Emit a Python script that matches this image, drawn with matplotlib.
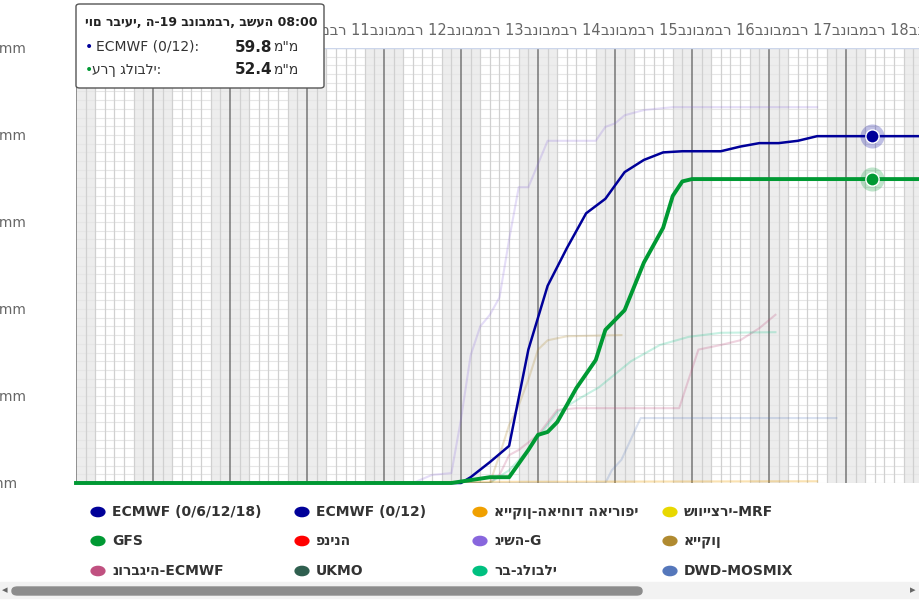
import matplotlib.pyplot as plt
from matplotlib.patches import FancyBboxPatch, Rectangle

# hours counted from 8 November 00:00
ecmwf_h = [0, 117, 120, 123, 129, 135, 141, 147, 153, 159, 165, 171, 177, 183, 189, 201, 207, 213, 219, 225, 231, 264]
ecmwf_v = [0, 0, 0, 1, 3.6, 6.4, 23, 34, 40.5, 46.5, 49, 53.6, 55.7, 57, 57.2, 57.2, 58, 58.6, 58.6, 59, 59.8, 59.8]

gfs_h = [0, 117, 123, 129, 135, 141, 144, 147, 150, 156, 162, 165, 171, 177, 183, 186, 189, 192, 264]
gfs_v = [0, 0, 0.5, 1, 1, 5.7, 8.3, 8.8, 10.5, 16.4, 21.2, 26.4, 29.8, 38, 44, 49.5, 52, 52.4, 52.4]

gisha_h = [0, 105, 111, 117, 120, 123, 126, 129, 132, 135, 138, 141, 147, 162, 165, 168, 171, 177, 186, 231]
gisha_v = [0, 0, 1.4, 1.7, 11, 22, 27, 29, 32, 42, 51, 51, 59, 59, 61.4, 62, 63.4, 64.3, 64.8, 64.8]

icon_h = [0, 129, 132, 135, 138, 141, 144, 147, 153, 170]
icon_v = [0, 0, 4.8, 10, 13.4, 17.8, 23, 24.6, 25.3, 25.5]

norway_h = [0, 129, 132, 135, 138, 144, 150, 156, 188, 194, 201, 207, 213, 218]
norway_v = [0, 0, 1.4, 4.8, 5.7, 8.3, 12.6, 12.9, 12.9, 23, 23.8, 24.6, 26.7, 29]

multi_h = [0, 129, 135, 141, 150, 157, 163, 173, 182, 191, 201, 218]
multi_v = [0, 0, 2.2, 5.7, 12.2, 14.6, 16.5, 21, 23.8, 25.2, 25.9, 26]

dwd_h = [0, 165, 167, 170, 176, 237]
dwd_v = [0, 0, 2.2, 4, 11.2, 11.2]

eu_h = [0, 129, 231]
eu_v = [0, 0.2, 0.3]

legend_names = [
    ("ECMWF (0/6/12/18)", "#000099"),
    ("ECMWF (0/12)", "#000099"),
    ("אייקון-האיחוד האירופי", "#f0a000"),
    ("שווייצרי-MRF", "#e8d800"),
    ("GFS", "#009933"),
    ("פנינה", "#ff0000"),
    ("גישה-G", "#8866dd"),
    ("אייקון", "#b08a30"),
    ("נורבגיה-ECMWF", "#c05080"),
    ("UKMO", "#2f5f4f"),
    ("רב-גלובלי", "#00c080"),
    ("DWD-MOSMIX", "#5577bb"),
]

fig = plt.figure(figsize=(9.2, 6.16), dpi=100)
ax = fig.add_axes([76 / 920, 1 - 483 / 616, 1 - 76 / 920, 435 / 616])
xmax = (920 - 76) / 77 * 24
ax.set_xlim(0, xmax)
ax.set_ylim(0, 75)

# night bands and grid
for d in range(12):
    ax.axvspan(d * 24 - 6, d * 24 + 6, color="#ededed", lw=0, zorder=0)
y = 0
while y <= 75:
    ax.axhline(y, color="#e6e6e6", lw=0.8, zorder=0.5)
    y += 1.5
for h in range(0, 270, 3):
    if h % 24 == 0:
        ax.axvline(h, color="#777777", lw=1.1, zorder=0.6)
    else:
        ax.axvline(h, color="#d0d0d0", lw=0.9, zorder=0.6)

for sp in ax.spines.values():
    sp.set_visible(False)
ax.axhline(75, color="#ccd6eb", lw=1, zorder=0.7)
ax.set_xticks([])
ax.set_yticks([0, 15, 30, 45, 60, 75])
ax.set_yticklabels(["%d mm" % v for v in [0, 15, 30, 45, 60, 75]], color="#666666", fontsize=10)
ax.tick_params(axis="y", length=0, pad=71)
for lab in ax.get_yticklabels():
    lab.set_ha("left")

# faded models
ax.plot(gisha_h, gisha_v, color="#8866dd", alpha=0.22, lw=1.5, zorder=2)
ax.plot(icon_h, icon_v, color="#b08a30", alpha=0.25, lw=1.5, zorder=2)
ax.plot(norway_h, norway_v, color="#c05080", alpha=0.25, lw=1.5, zorder=2)
ax.plot(multi_h, multi_v, color="#00c080", alpha=0.22, lw=1.5, zorder=2)
ax.plot(dwd_h, dwd_v, color="#5577bb", alpha=0.22, lw=1.5, zorder=2)
ax.plot(eu_h, eu_v, color="#f0a000", alpha=0.3, lw=1.5, zorder=2)

ax.plot(ecmwf_h, ecmwf_v, color="#000099", lw=1.8, zorder=3, clip_on=False)
ax.plot(gfs_h, gfs_v, color="#009933", lw=2.8, zorder=3, clip_on=False)

hover = 248
ax.scatter([hover], [59.8], s=300, color="#000099", alpha=0.25, lw=0, zorder=4)
ax.scatter([hover], [59.8], s=90, color="#000099", edgecolor="white", lw=1, zorder=5)
ax.scatter([hover], [52.4], s=300, color="#009933", alpha=0.25, lw=0, zorder=4)
ax.scatter([hover], [52.4], s=90, color="#009933", edgecolor="white", lw=1, zorder=5)

# day labels on top (hidden behind the tooltip on the left, cut at the right edge)
for d in range(9, 20):
    xc = (d - 8) * 24 + 12 - 4.5
    ax.text(xc, 76.8, "בנובמבר %d" % d, ha="center", va="bottom",
            fontsize=10.5, color="#666666", clip_on=True).set_clip_box(fig.bbox)

# legend
cols = [88, 292, 470, 660]
rows = [512, 541, 571]
for i, (name, c) in enumerate(legend_names):
    x = cols[i % 4] / 920
    yy = 1 - rows[i // 4] / 616
    fig.patches.append(plt.Circle((x + 10 / 920, yy), 0.0075, color=c,
                                  transform=fig.transFigure, figure=fig))
    fig.text(x + 24 / 920, yy, name, fontsize=10, color="#333333",
             fontweight="bold", va="center")

# scrollbar
fig.patches.append(Rectangle((0, 1 - 598 / 616), 1, 16 / 616, color="#f2f2f2",
                             transform=fig.transFigure, figure=fig))
fig.patches.append(FancyBboxPatch((12 / 920, 1 - 595 / 616), 630 / 920, 8 / 616,
                                  boxstyle="round,pad=0,rounding_size=0.006",
                                  color="#8c8c8c", transform=fig.transFigure, figure=fig))
fig.text(2 / 920, 1 - 590 / 616, "◂", fontsize=8, color="#666666", va="center")
fig.text(910 / 920, 1 - 590 / 616, "▸", fontsize=8, color="#666666", va="center")

# tooltip
tb = FancyBboxPatch((76 / 920, 1 - 88 / 616), 248 / 920, 84 / 616,
                    boxstyle="round,pad=0,rounding_size=0.004", facecolor="white",
                    edgecolor="#555555", lw=1, transform=fig.transFigure, figure=fig, zorder=10)
fig.patches.append(tb)
fig.text(85 / 920, 1 - 22 / 616, "יום רביעי, ה-19 בנובמבר, בשעה 08:00",
         fontsize=9, fontweight="bold", color="#222222", va="center", zorder=11)
fig.text(85 / 920, 1 - 47 / 616, "•", fontsize=10, color="#000099", va="center", zorder=11)
fig.text(96 / 920, 1 - 47 / 616, "ECMWF (0/12):", fontsize=10, color="#333333", va="center", zorder=11)
fig.text(85 / 920, 1 - 70 / 616, "•", fontsize=10, color="#009933", va="center", zorder=11)
fig.text(92 / 920, 1 - 70 / 616, "ערך גלובלי:", fontsize=10, color="#333333", va="center", zorder=11)
for yy, v in [(47, "59.8"), (70, "52.4")]:
    fig.text(272 / 920, 1 - yy / 616, v, fontsize=11, fontweight="bold", color="#222222",
             va="center", ha="right", zorder=11)
    fig.text(273 / 920, 1 - yy / 616, 'מ"מ', fontsize=10, color="#333333", va="center", zorder=11)

fig.savefig("out.png", dpi=100)
